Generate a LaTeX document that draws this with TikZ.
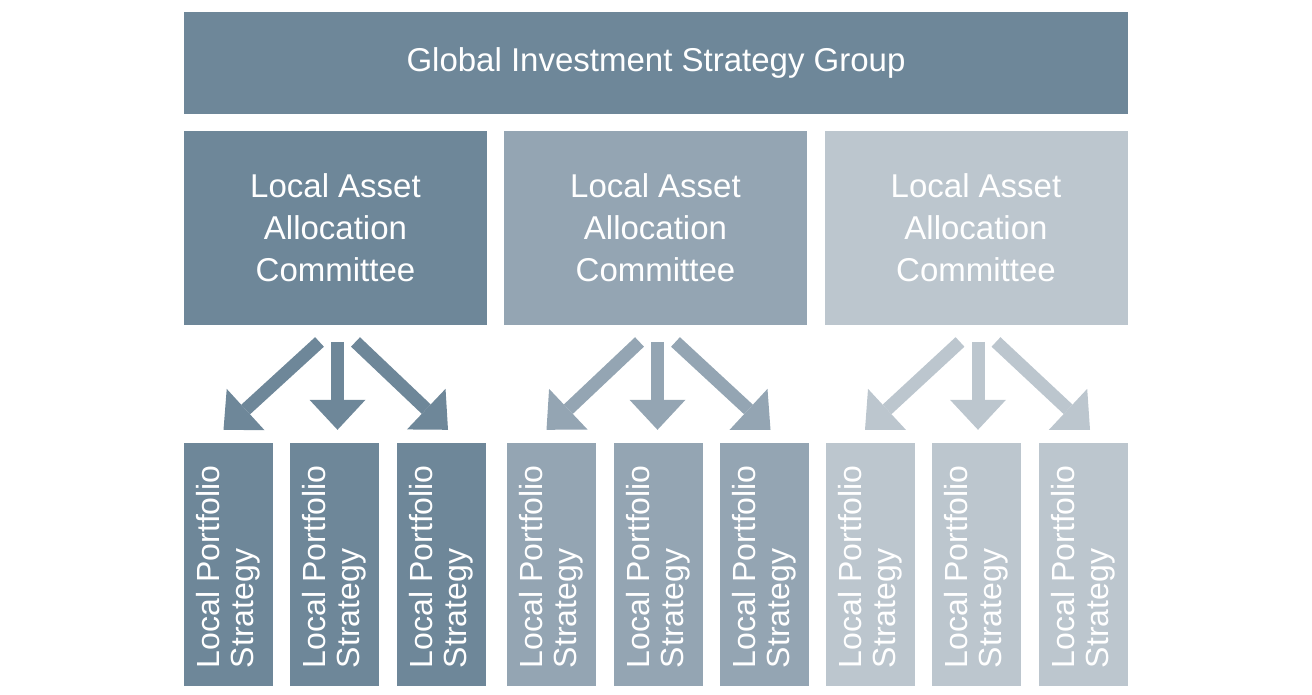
\documentclass[tikz,border=0pt]{standalone}
\usepackage{fontspec}
\setmainfont{Liberation Sans}
\usepackage{graphicx}
\usetikzlibrary{arrows.meta,calc}

\definecolor{darkslate}{HTML}{6E8799}
\definecolor{midslate}{HTML}{94A5B3}
\definecolor{lightslate}{HTML}{BCC6CE}
\newcommand{\vtext}[1]{\rotatebox{90}{\parbox{207pt}{\raggedright #1}}}

\begin{document}
\begin{tikzpicture}[
  x=1pt, y=1pt,
  every node/.style={text=white, inner sep=0pt},
  group/.style={rectangle, fill=darkslate, minimum width=944pt, minimum height=102pt, font=\fontsize{33}{42}\selectfont},
  committee/.style={rectangle, minimum width=303pt, minimum height=194.5pt, align=center, font=\fontsize{33}{42}\selectfont},
  lps/.style={rectangle, minimum width=89pt, minimum height=243pt, font=\fontsize{32}{34}\selectfont},
  arr/.style={line width=13pt, -{Triangle[length=30pt, width=56pt, line width=0pt]}}
]
  \useasboundingbox (0,0) rectangle (1312,-695);

  \node[group] (gisg) at (656,-63) {Global Investment Strategy Group};

  \node[committee, fill=darkslate] (lac1) at (335.5,-228) {Local Asset\\Allocation\\Committee};
  \node[committee, fill=midslate] (lac2) at (655.5,-228) {Local Asset\\Allocation\\Committee};
  \node[committee, fill=lightslate] (lac3) at (976,-228) {Local Asset\\Allocation\\Committee};

  \node[lps, fill=darkslate] (lps11) at (228.5,-564.5) {\vtext{Local Portfolio\\Strategy}};
  \node[lps, fill=darkslate] (lps12) at (334.5,-564.5) {\vtext{Local Portfolio\\Strategy}};
  \node[lps, fill=darkslate] (lps13) at (441.5,-564.5) {\vtext{Local Portfolio\\Strategy}};
  \node[lps, fill=midslate] (lps21) at (551.5,-564.5) {\vtext{Local Portfolio\\Strategy}};
  \node[lps, fill=midslate] (lps22) at (658,-564.5) {\vtext{Local Portfolio\\Strategy}};
  \node[lps, fill=midslate] (lps23) at (764,-564.5) {\vtext{Local Portfolio\\Strategy}};
  \node[lps, fill=lightslate] (lps31) at (870,-564.5) {\vtext{Local Portfolio\\Strategy}};
  \node[lps, fill=lightslate] (lps32) at (976.5,-564.5) {\vtext{Local Portfolio\\Strategy}};
  \node[lps, fill=lightslate] (lps33) at (1083.5,-564.5) {\vtext{Local Portfolio\\Strategy}};

  % arrows from each committee down to its strategies
  \draw[arr, darkslate] ($(lac1.south)+(-16,-16.5)$) -- ($(lps11.north)+(-5,13)$);
  \draw[arr, darkslate] ($(lac1.south)+(2,-16.5)$) -- ($(lac1.south |- lps12.north)+(2,13)$);
  \draw[arr, darkslate] ($(lac1.south)+(20,-16.5)$) -- ($(lps13.north)+(6.5,13)$);

  \draw[arr, midslate] ($(lac2.south)+(-16,-16.5)$) -- ($(lps21.north)+(-5,13)$);
  \draw[arr, midslate] ($(lac2.south)+(2,-16.5)$) -- ($(lac2.south |- lps22.north)+(2,13)$);
  \draw[arr, midslate] ($(lac2.south)+(20,-16.5)$) -- ($(lps23.north)+(6.5,13)$);

  \draw[arr, lightslate] ($(lac3.south)+(-16,-16.5)$) -- ($(lps31.north)+(-5,13)$);
  \draw[arr, lightslate] ($(lac3.south)+(2,-16.5)$) -- ($(lac3.south |- lps32.north)+(2,13)$);
  \draw[arr, lightslate] ($(lac3.south)+(20,-16.5)$) -- ($(lps33.north)+(6.5,13)$);
\end{tikzpicture}
\end{document}
